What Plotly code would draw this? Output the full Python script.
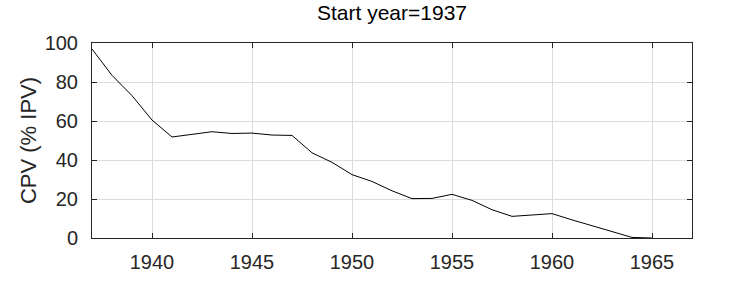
import plotly.graph_objects as go

years = list(range(1937, 1966))
cpv = [96.9, 83.4, 73.0, 60.5, 51.8, 53.2, 54.5, 53.6, 53.8, 52.8, 52.6,
       43.7, 38.8, 32.5, 29.0, 24.2, 20.2, 20.3, 22.4, 19.3, 14.5, 11.1,
       11.8, 12.5, 9.3, 6.2, 3.2, 0.3, 0.0]
x_ticks = [1940, 1945, 1950, 1955, 1960, 1965]
y_ticks = [0, 20, 40, 60, 80, 100]
title_text = "Start year=1937"
y_label = "CPV (% IPV)"

fig = go.Figure()
fig.add_trace(go.Scatter(x=years, y=cpv, mode="lines",
                         line=dict(color="black", width=1)))

font_family = "Liberation Sans"
axis_common = dict(
    showline=True, linecolor="#262626", linewidth=1, mirror="ticks",
    ticks="inside", ticklen=5, tickcolor="#262626", tickwidth=1,
    showgrid=True, gridcolor="#dcdcdc", gridwidth=1, zeroline=False,
    tickfont=dict(family=font_family, size=20, color="#262626"),
)
fig.update_layout(
    width=729, height=298,
    margin=dict(l=92, r=37, t=43, b=60),
    paper_bgcolor="white", plot_bgcolor="white",
    showlegend=False,
    title=dict(text=title_text, x=(92 + 692) / 2 / 729, xanchor="center",
               y=1 - 12.5 / 298, yanchor="middle",
               font=dict(family=font_family, size=21, color="black")),
    xaxis=dict(range=[1937, 1967], tickvals=x_ticks, ticklabelstandoff=6, **axis_common),
    yaxis=dict(range=[0, 100], tickvals=y_ticks, ticklabelstandoff=9,
               title=dict(text=y_label, standoff=1,
                          font=dict(family=font_family, size=22, color="#262626")),
               **axis_common),
)
fig.write_html("out.html")
